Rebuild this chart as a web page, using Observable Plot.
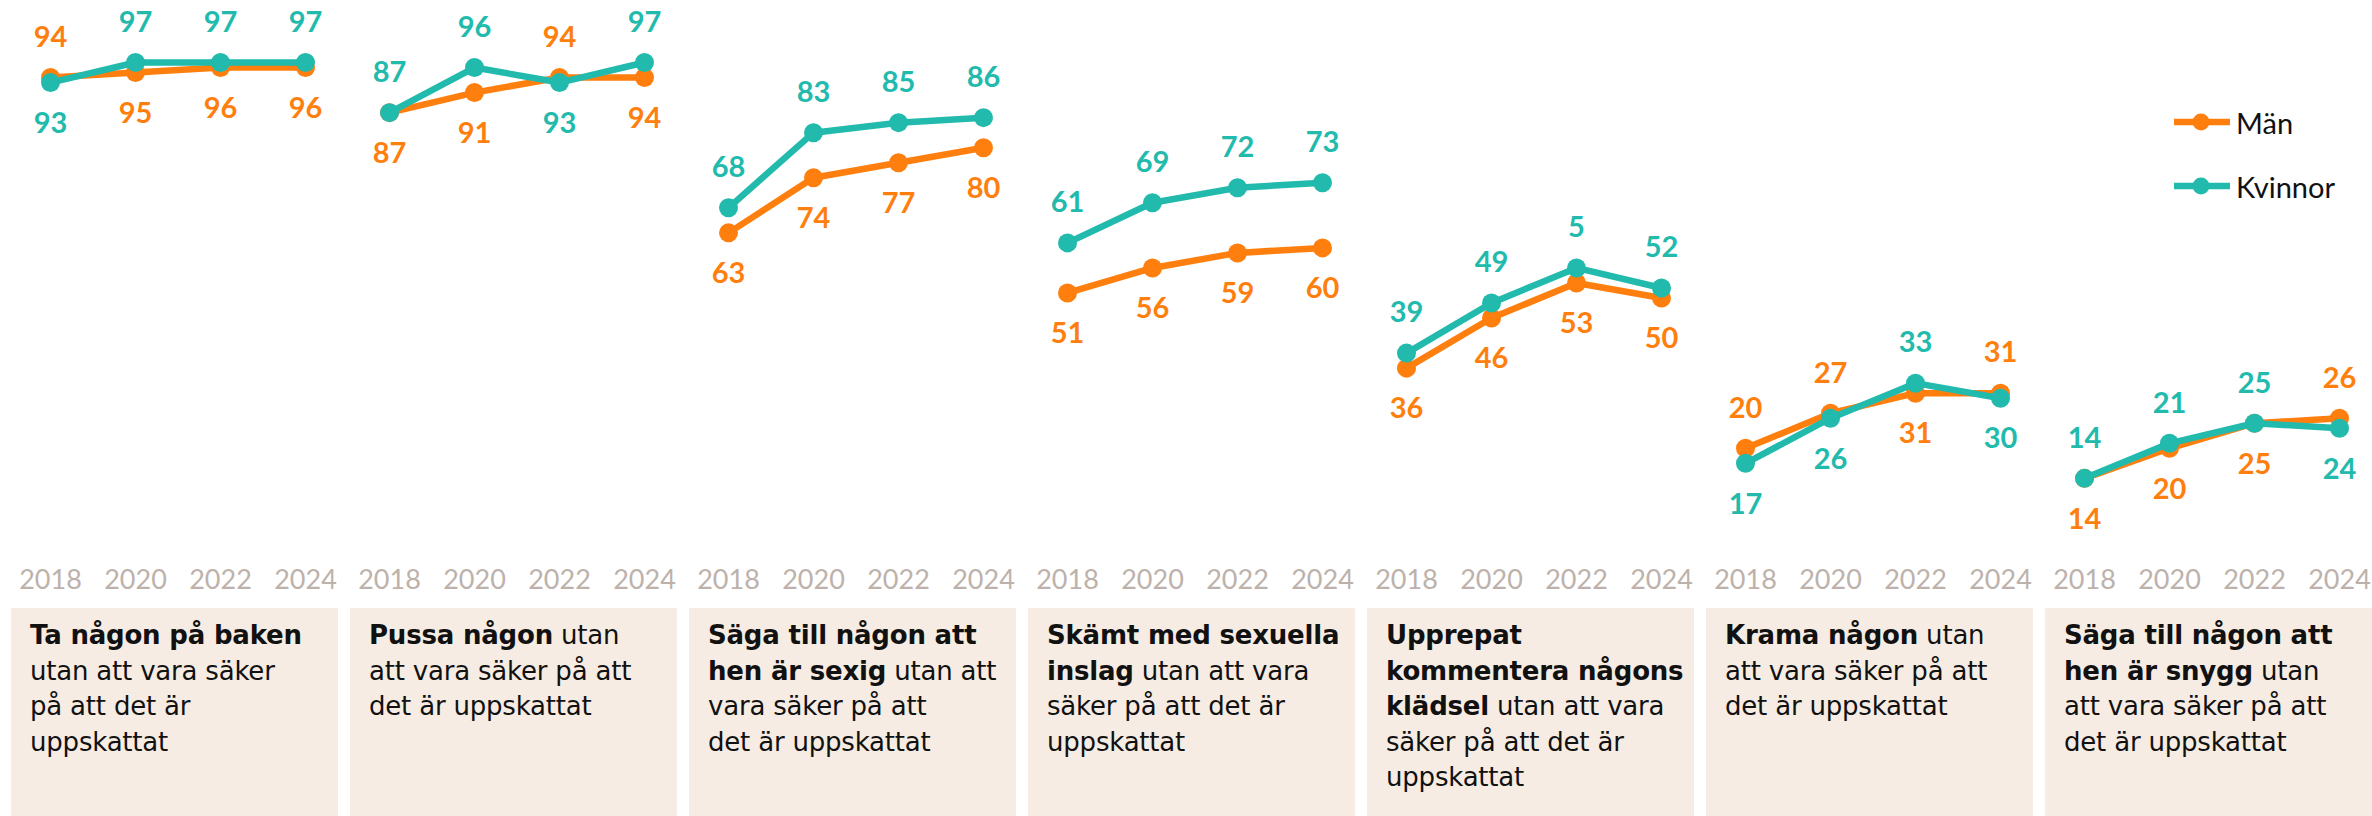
<!DOCTYPE html>
<html>
<head>
<meta charset="utf-8">
<script src="https://cdn.jsdelivr.net/npm/d3@7"></script>
<script src="https://cdn.jsdelivr.net/npm/@observablehq/plot@0.6"></script>
<style>
  html, body { margin: 0; padding: 0; background: #ffffff; }
  #wrap { position: relative; width: 2372px; height: 816px; overflow: hidden; font-family: Lato, "Open Sans", sans-serif; }
  #boxes { position: relative; width: 2372px; height: 208px; }
  .box { position: absolute; top: 0; height: 208px; background: #F6ECE3; box-sizing: border-box;
         padding: 10px 0 0 19px; font-family: "DejaVu Sans", sans-serif; font-size: 26px; line-height: 35.5px; color: #111; white-space: nowrap; letter-spacing: -0.2px; }
  .box b { font-weight: 700; }
  #legend { position: absolute; left: 2174px; top: 0; font-size: 29px; color: #111; }
  .lg { position: absolute; left: 0; display: flex; align-items: center; white-space: nowrap; }
  .lg svg { display: block; margin-right: 6px; }
</style>
</head>
<body>
<div id="wrap">
  <div id="chart"></div>
  <div id="boxes"></div>
  <div id="legend"></div>
</div>
<script>
// ---- data ----
const categories = [
  "Ta någon på baken",
  "Pussa någon",
  "Säga till någon att hen är sexig",
  "Skämt med sexuella inslag",
  "Upprepat kommentera någons klädsel",
  "Krama någon",
  "Säga till någon att hen är snygg"
];
const years = ["2018", "2020", "2022", "2024"];
const seriesNames = ["Män", "Kvinnor"];
const colors = ["#FF7F0E", "#21BAAC"];

const manValues = [
  [94, 95, 96, 96],
  [87, 91, 94, 94],
  [63, 74, 77, 80],
  [51, 56, 59, 60],
  [36, 46, 53, 50],
  [20, 27, 31, 31],
  [14, 20, 25, 26]
];
const kvinnorValues = [
  [93, 97, 97, 97],
  [87, 96, 93, 97],
  [68, 83, 85, 86],
  [61, 69, 72, 73],
  [39, 49, 56, 52],
  [17, 26, 33, 30],
  [14, 21, 25, 24]
];
// label texts as printed in the chart
const manLabels = manValues.map(r => r.map(String));
const kvinnorLabels = [
  ["93", "97", "97", "97"],
  ["87", "96", "93", "97"],
  ["68", "83", "85", "86"],
  ["61", "69", "72", "73"],
  ["39", "49", "5", "52"],
  ["17", "26", "33", "30"],
  ["14", "21", "25", "24"]
];
// label placement: a = above, b = below
const manPos = [
  ["a", "b", "b", "b"],
  ["b", "b", "a", "b"],
  ["b", "b", "b", "b"],
  ["b", "b", "b", "b"],
  ["b", "b", "b", "b"],
  ["a", "a", "b", "a"],
  ["b", "b", "b", "a"]
];
const kvinnorPos = [
  ["b", "a", "a", "a"],
  ["a", "a", "b", "a"],
  ["a", "a", "a", "a"],
  ["a", "a", "a", "a"],
  ["a", "a", "a", "a"],
  ["b", "b", "a", "b"],
  ["a", "a", "a", "b"]
];
// box texts: [bold part, regular part] per line
const boxLines = [
  [["Ta någon på baken", ""], ["", "utan att vara säker"], ["", "på att det är"], ["", "uppskattat"]],
  [["Pussa någon", " utan"], ["", "att vara säker på att"], ["", "det är uppskattat"]],
  [["Säga till någon att", ""], ["hen är sexig", " utan att"], ["", "vara säker på att"], ["", "det är uppskattat"]],
  [["Skämt med sexuella", ""], ["inslag", " utan att vara"], ["", "säker på att det är"], ["", "uppskattat"]],
  [["Upprepat", ""], ["kommentera någons", ""], ["klädsel", " utan att vara"], ["", "säker på att det är"], ["", "uppskattat"]],
  [["Krama någon", " utan"], ["", "att vara säker på att"], ["", "det är uppskattat"]],
  [["Säga till någon att", ""], ["hen är snygg", " utan"], ["", "att vara säker på att"], ["", "det är uppskattat"]]
];

// ---- build table ----
const rows = [];
categories.forEach((cat, i) => {
  years.forEach((year, j) => {
    rows.push({cat, year, series: "Män", value: manValues[i][j], label: manLabels[i][j], pos: manPos[i][j]});
    rows.push({cat, year, series: "Kvinnor", value: kvinnorValues[i][j], label: kvinnorLabels[i][j], pos: kvinnorPos[i][j]});
  });
});
const men = rows.filter(d => d.series === "Män");
const women = rows.filter(d => d.series === "Kvinnor");

const common = {fx: "cat", x: "year", y: "value"};
const labelFont = {fontSize: 29, fontWeight: 700, fontFamily: "Lato, 'Open Sans', sans-serif"};

function seriesMarks(arr) {
  return [
    Plot.line(arr, {...common, stroke: "series", strokeWidth: 6.5}),
    Plot.dot(arr, {...common, fill: "series", r: 9.5}),
    Plot.text(arr, {...common, filter: d => d.pos === "a", text: "label", fill: "series", dy: -40, ...labelFont}),
    Plot.text(arr, {...common, filter: d => d.pos === "b", text: "label", fill: "series", dy: 41, ...labelFont})
  ];
}

const chart = Plot.plot({
  width: 2372,
  height: 608,
  marginLeft: 11,
  marginRight: 0,
  marginTop: 47,
  marginBottom: 60,
  style: {fontFamily: "Lato, 'Open Sans', sans-serif", fontSize: "27px", color: "#BDB2AB", background: "transparent"},
  fx: {domain: categories, axis: null, paddingInner: 0.0354, paddingOuter: 0},
  x: {type: "point", domain: years, padding: 0, insetLeft: 38, insetRight: 32, tickSize: 0, tickPadding: 21, label: null},
  y: {domain: [0, 100], axis: null},
  color: {domain: seriesNames, range: colors},
  marks: [
    ...seriesMarks(men),
    ...seriesMarks(women)
  ]
});
document.getElementById("chart").appendChild(chart);

// ---- category boxes positioned from the fx scale ----
const fx = chart.scale("fx");
const boxes = document.getElementById("boxes");
categories.forEach((cat, i) => {
  const div = document.createElement("div");
  div.className = "box";
  div.style.left = fx.apply(cat) + "px";
  div.style.width = fx.bandwidth + "px";
  div.innerHTML = boxLines[i].map(([b, r]) => (b ? "<b>" + b + "</b>" : "") + r).join("<br>");
  boxes.appendChild(div);
});

// ---- legend ----
const legend = document.getElementById("legend");
const legendY = [122, 186];
seriesNames.forEach((name, i) => {
  const row = document.createElement("div");
  row.className = "lg";
  row.style.top = (legendY[i] - 20) + "px";
  row.style.height = "40px";
  row.innerHTML = `<svg width="56" height="20"><line x1="1" x2="55" y1="10" y2="10" stroke="${colors[i]}" stroke-width="6.5" stroke-linecap="round"/><circle cx="27" cy="10" r="8.5" fill="${colors[i]}"/></svg><span>${name}</span>`;
  legend.appendChild(row);
});
</script>
</body>
</html>
